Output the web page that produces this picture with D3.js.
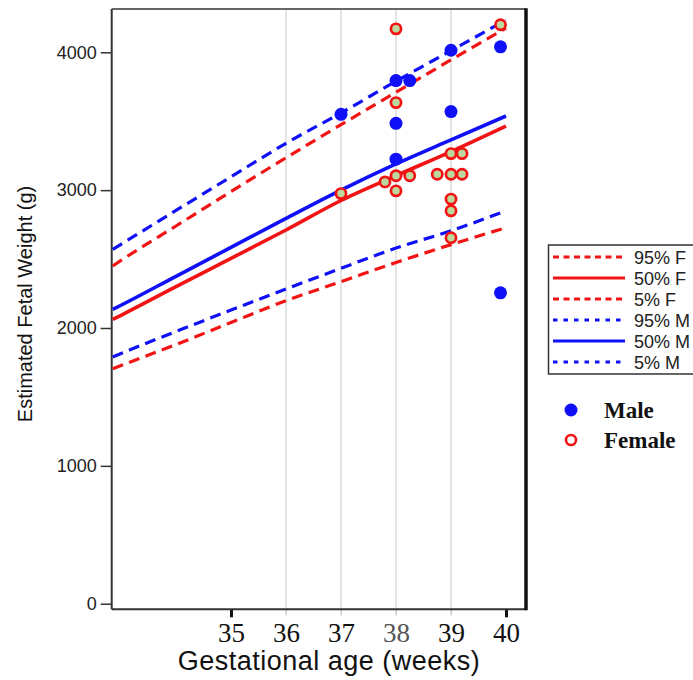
<!DOCTYPE html>
<html>
<head>
<meta charset="utf-8">
<script src="https://cdn.jsdelivr.net/npm/d3@7"></script>
<style>
body { margin: 0; background: #fff; }
</style>
</head>
<body>
<script>
// centile curves, grams per gestational week
let weeks = [32.85, 33, 34, 35, 36, 37, 38, 39, 40]
let f95 = [2450, 2490, 2740, 2990, 3235, 3475, 3710, 3945, 4176]
let f50 = [2062, 2092, 2300, 2505, 2711, 2925, 3105, 3280, 3465]
let f5 = [1705, 1728, 1880, 2040, 2198, 2336, 2475, 2605, 2728]
let m95 = [2570, 2607, 2853, 3097, 3340, 3560, 3790, 4012, 4234]
let m50 = [2135, 2165, 2375, 2585, 2795, 3000, 3190, 3365, 3538]
let m5 = [1790, 1815, 1975, 2130, 2283, 2433, 2580, 2705, 2851]

// observed fetuses
let femaleWeeks = [38, 39.9, 38, 37, 37.8, 38, 38.25, 38, 38.75, 39, 39.2, 39, 39.2, 39, 39, 39]
let femaleWeights = [4170, 4200, 3635, 2975, 3060, 3105, 3105, 2995, 3115, 3115, 3115, 3265, 3265, 2935, 2850, 2655]
let maleWeeks = [37, 38, 38.25, 38, 38, 39, 39, 39.9, 39.9]
let maleWeights = [3550, 3795, 3795, 3485, 3225, 4015, 3570, 4040, 2255]

let xTicks = [35, 36, 37, 38, 39, 40]
let gridWeeks = [36, 37, 38, 39]
let yTicks = [0, 1000, 2000, 3000, 4000]
let legendLabels = ['95% F', '50% F', '5% F', '95% M', '50% M', '5% M']

const RED = '#f21414'
const BLUE = '#1010f8'
const LEFT = 111.7, RIGHT = 526, TOP = 9, BOTTOM = 609.3

let x = d3.scaleLinear().domain([35, 40]).range([231, 506])
let y = d3.scaleLinear().domain([0, 4000]).range([603.7, 52.3])

let svg = d3.select('body').append('svg')
    .attr('width', 693)
    .attr('height', 680)
    .style('font-family', '"Liberation Sans", Arial, sans-serif')

// vertical grid
svg.selectAll('.grid')
    .data(gridWeeks)
    .join('line')
    .classed('grid', true)
    .attr('x1', d => x(d)).attr('x2', d => x(d))
    .attr('y1', TOP).attr('y2', BOTTOM + 6)
    .attr('stroke', '#c9c9c9')
    .attr('stroke-width', 1)

// y axis
let yAxis = svg.append('g')
    .attr('transform', `translate(${LEFT},0)`)
    .call(d3.axisLeft(y).tickValues(yTicks).tickFormat(d3.format('d'))
        .tickSize(11).tickSizeOuter(0).tickPadding(4))
yAxis.select('.domain').remove()
yAxis.selectAll('.tick line').attr('stroke', '#333').attr('stroke-width', 1.5)
yAxis.selectAll('.tick text')
    .style('font-size', '18px')
    .attr('fill', '#222')
    .style('font-family', '"Liberation Sans", Arial, sans-serif')

// x axis
let xAxis = svg.append('g')
    .attr('transform', `translate(0,${BOTTOM})`)
    .call(d3.axisBottom(x).tickValues(xTicks).tickFormat(d3.format('d'))
        .tickSize(8).tickSizeOuter(0))
xAxis.select('.domain').remove()
xAxis.selectAll('.tick line')
    .attr('stroke', d => (d == 35 || d == 40) ? '#111' : '#c9c9c9')
    .attr('stroke-width', d => (d == 35 || d == 40) ? 3 : 1)
    .attr('y2', d => (d == 35 || d == 40) ? 8 : 6)
xAxis.selectAll('.tick text')
    .attr('y', 32.4)
    .attr('dy', null)
    .attr('fill', d => d == 38 ? '#555' : '#111')
    .style('font-family', '"Liberation Serif", "Times New Roman", serif')
    .style('font-size', '27px')

// frame
svg.append('line').attr('x1', LEFT).attr('x2', RIGHT).attr('y1', TOP).attr('y2', TOP)
    .attr('stroke', '#333').attr('stroke-width', 1.5)
svg.append('line').attr('x1', LEFT).attr('x2', LEFT).attr('y1', TOP).attr('y2', BOTTOM)
    .attr('stroke', '#333').attr('stroke-width', 2)
svg.append('line').attr('x1', LEFT).attr('x2', RIGHT).attr('y1', BOTTOM).attr('y2', BOTTOM)
    .attr('stroke', '#333').attr('stroke-width', 2)
svg.append('line').attr('x1', RIGHT).attr('x2', RIGHT).attr('y1', TOP - 0.75).attr('y2', BOTTOM + 1)
    .attr('stroke', '#111').attr('stroke-width', 3.5)

// centile curves
let curves = [
    {vals: f95, color: RED, dash: '11,6.5', width: 3.2},
    {vals: f50, color: RED, dash: null, width: 3.6},
    {vals: f5, color: RED, dash: '11,6.5', width: 3.2},
    {vals: m95, color: BLUE, dash: '11,6.5', width: 3.2},
    {vals: m50, color: BLUE, dash: null, width: 3.6},
    {vals: m5, color: BLUE, dash: '11,6.5', width: 3.2}
]

let line = d3.line()
    .x((d, i) => x(weeks[i]))
    .y(d => y(d))
    .curve(d3.curveMonotoneX)

svg.selectAll('.centile')
    .data(curves)
    .join('path')
    .classed('centile', true)
    .attr('d', d => line(d.vals))
    .attr('fill', 'none')
    .attr('stroke', d => d.color)
    .attr('stroke-width', d => d.width)
    .attr('stroke-dasharray', d => d.dash)

// points
svg.selectAll('.female')
    .data(femaleWeeks)
    .join('circle')
    .classed('female', true)
    .attr('cx', d => x(d))
    .attr('cy', (d, i) => y(femaleWeights[i]))
    .attr('r', 5.1)
    .attr('fill', '#bcd89c')
    .attr('stroke', RED)
    .attr('stroke-width', 2.7)

svg.selectAll('.male')
    .data(maleWeeks)
    .join('circle')
    .classed('male', true)
    .attr('cx', d => x(d))
    .attr('cy', (d, i) => y(maleWeights[i]))
    .attr('r', 6.5)
    .attr('fill', BLUE)

// axis titles
svg.append('text')
    .attr('transform', 'translate(31.5,304) rotate(-90)')
    .attr('text-anchor', 'middle')
    .style('font-size', '20px')
    .attr('fill', '#111')
    .text('Estimated Fetal Weight (g)')

svg.append('text')
    .attr('x', 329)
    .attr('y', 670)
    .attr('text-anchor', 'middle')
    .style('font-size', '27px')
    .style('letter-spacing', '0.5px')
    .attr('fill', '#111')
    .text('Gestational age (weeks)')

// line legend
let legend = svg.append('g')
legend.append('rect')
    .attr('x', 548.5).attr('y', 245)
    .attr('width', 150).attr('height', 129)
    .attr('fill', '#fff')
    .attr('stroke', '#333')
    .attr('stroke-width', 1.5)

let rows = legend.selectAll('.row')
    .data(legendLabels)
    .join('g')
    .classed('row', true)
    .attr('transform', (d, i) => `translate(0,${257 + i * 21})`)

rows.append('line')
    .attr('x1', 553).attr('x2', 625)
    .attr('stroke', (d, i) => curves[i].color)
    .attr('stroke-width', 3)
    .attr('stroke-dasharray', (d, i) => curves[i].dash == null ? null : (i < 3 ? '6,4.5' : '4.5,6'))

rows.append('text')
    .attr('x', 634)
    .attr('y', 6.5)
    .style('font-size', '18px')
    .attr('fill', '#222')
    .text(d => d)

// sex legend
svg.append('circle').attr('cx', 571).attr('cy', 410).attr('r', 6.5).attr('fill', BLUE)
svg.append('circle').attr('cx', 571).attr('cy', 440).attr('r', 5)
    .attr('fill', '#fff').attr('stroke', RED).attr('stroke-width', 2.6)

svg.selectAll('.sex')
    .data(['Male', 'Female'])
    .join('text')
    .classed('sex', true)
    .attr('x', 604)
    .attr('y', (d, i) => 417.5 + i * 30.5)
    .style('font-family', '"Liberation Serif", "Times New Roman", serif')
    .style('font-weight', 'bold')
    .style('font-size', '23px')
    .attr('fill', '#111')
    .text(d => d)
</script>
</body>
</html>
